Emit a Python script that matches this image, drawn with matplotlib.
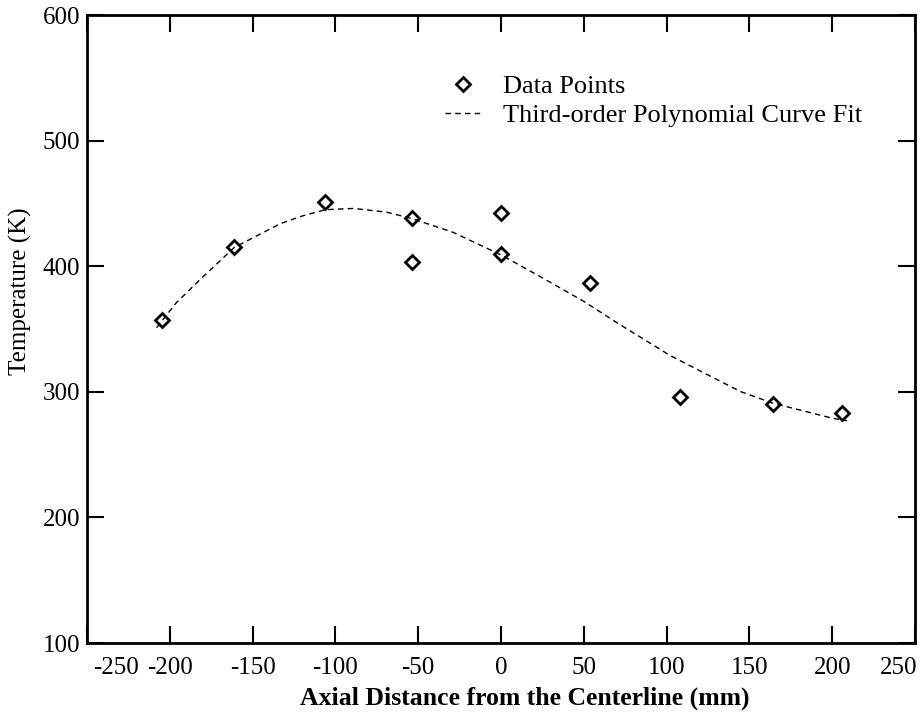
import numpy as np
import matplotlib
matplotlib.use("Agg")
import matplotlib.pyplot as plt
import matplotlib.transforms as mtransforms

plt.rcParams['font.family'] = ['Liberation Serif', 'DejaVu Serif']
plt.rcParams['axes.unicode_minus'] = False

# measured data points
x_data = [-205, -161, -106, -54, -54, 0, 0, 54, 108, 164, 206]
t_data = [357, 415, 451, 438, 403, 442, 410, 387, 296, 290, 283]

# third-order fit
x_fit = [-208, -196, -182, -161, -133, -120, -106, -89, -69, -54, -29, 0, 26,
         50, 70, 102, 130, 145, 164, 200, 209]
t_fit = [351, 371, 389, 415, 434, 440, 445, 446, 443, 438, 427, 409, 390,
         372, 355, 329, 310, 300, 291, 279, 277]

x_ticks = [-250, -200, -150, -100, -50, 0, 50, 100, 150, 200, 250]
y_ticks = [100, 200, 300, 400, 500, 600]

fig = plt.figure(figsize=(9.22, 7.24), dpi=100)
ax = fig.add_axes([87/922, 81/724, 828/922, 628/724])

ax.plot(x_data, t_data, linestyle='none', marker='D', markersize=7,
        markerfacecolor='none', markeredgecolor='black', markeredgewidth=2,
        label='Data Points')
ax.plot(x_fit, t_fit, color='black', linewidth=1, dashes=(4, 3),
        label='Third-order Polynomial Curve Fit')

ax.set_xlim(-250, 250)
ax.set_ylim(100, 600)
ax.set_xticks(x_ticks)
ax.set_yticks(y_ticks)
ax.tick_params(direction='in', length=12, width=1.5, top=True, right=True,
               labelsize=18)
ax.tick_params(axis='x', pad=10)
ax.tick_params(axis='y', pad=5)
for s in ax.spines.values():
    s.set_linewidth(2)

# end labels pulled inside the frame
labels = ax.get_xticklabels()
labels[0].set_ha('left')
labels[0].set_transform(labels[0].get_transform() +
                        mtransforms.ScaledTranslation(6/100, 0, fig.dpi_scale_trans))
labels[-1].set_ha('right')
labels[-1].set_transform(labels[-1].get_transform() +
                         mtransforms.ScaledTranslation(2/100, 0, fig.dpi_scale_trans))

ax.set_xlabel('Axial Distance from the Centerline (mm)', fontsize=18.5,
              fontweight='bold', labelpad=14)
ax.xaxis.set_label_coords(0.529, -0.07)
ax.set_ylabel('Temperature (K)', fontsize=18)
ax.yaxis.set_label_coords(-0.066, 0.56)

ax.legend(loc='upper left', bbox_to_anchor=(0.4036, 0.943), frameon=False,
          fontsize=19, handlelength=1.4, handletextpad=0.8, labelspacing=0.2)

fig.savefig('out.png', dpi=100)
